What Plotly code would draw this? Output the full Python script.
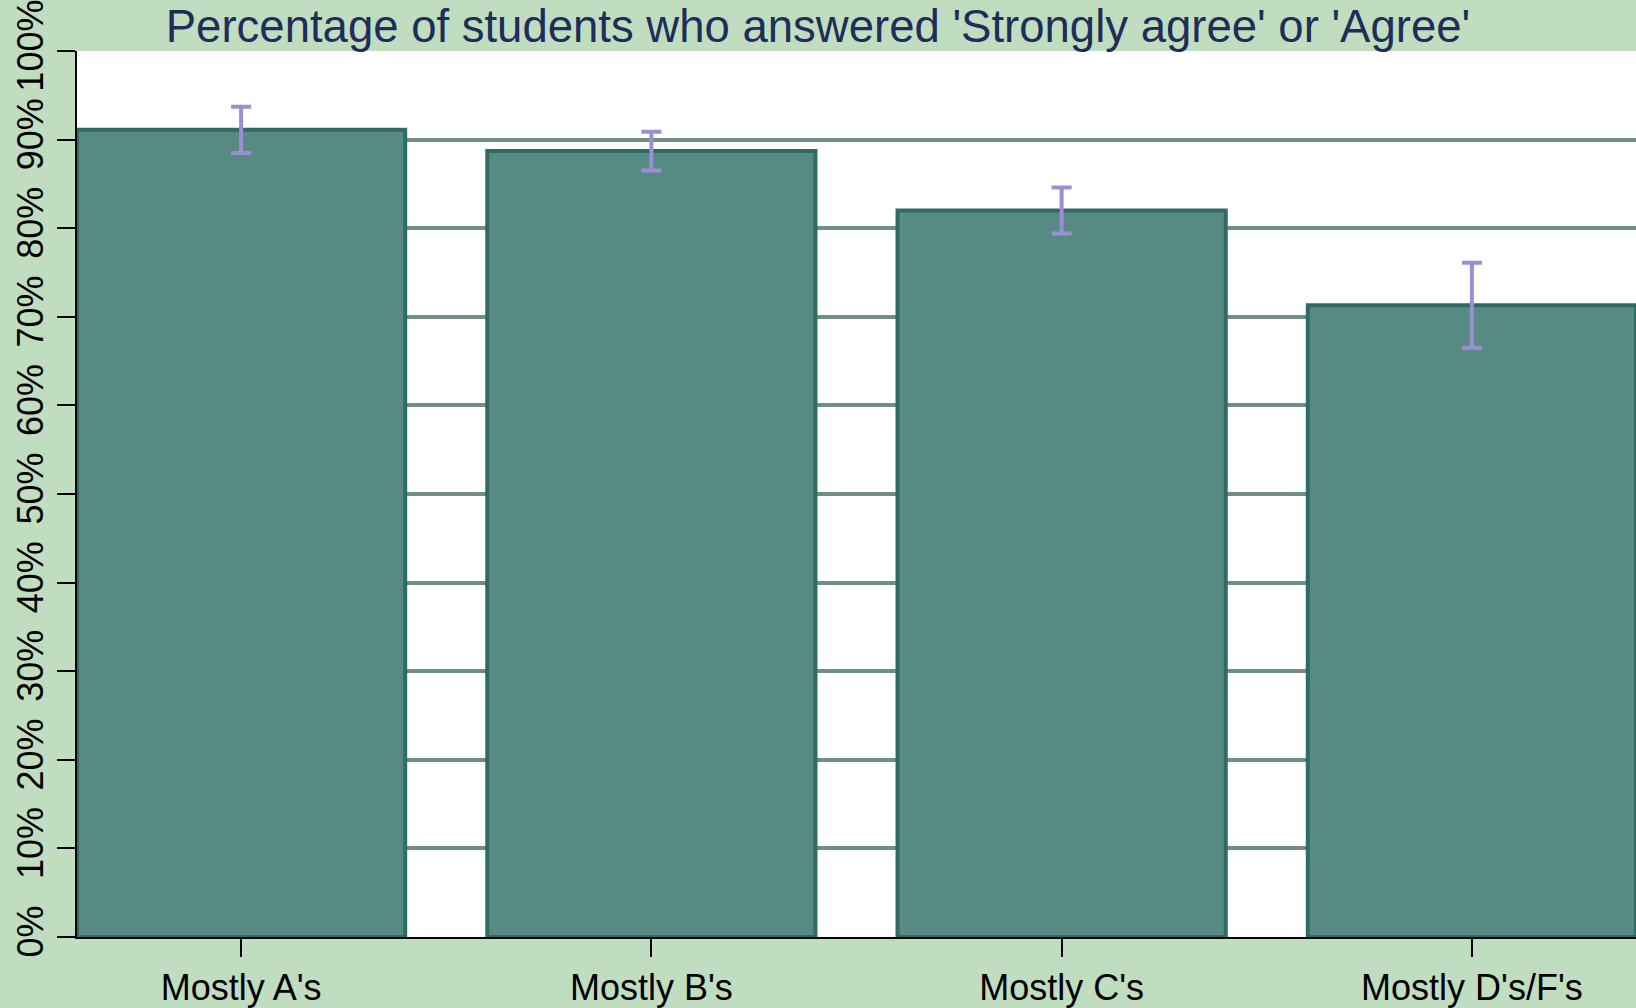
import plotly.graph_objects as go

categories = ["Mostly A's", "Mostly B's", "Mostly C's", "Mostly D's/F's"]
values = [91.1, 88.7, 82.0, 71.3]
errors = [2.6, 2.2, 2.6, 4.8]
y_ticks = list(range(0, 101, 10))
y_tick_labels = [f"{v}%" for v in y_ticks]
title_text = "Percentage of students who answered 'Strongly agree' or 'Agree'"

fig = go.Figure()
fig.add_trace(go.Bar(
    x=list(range(len(categories))),
    y=values,
    width=0.8,
    marker=dict(color="#588A84", line=dict(color="#2E6B62", width=4)),
    error_y=dict(type="data", array=errors, visible=True,
                 color="#9B8FD4", thickness=4, width=10),
    hoverinfo="skip",
))

fig.update_layout(
    width=1636, height=1008,
    paper_bgcolor="#C0DDC0",
    plot_bgcolor="#FFFFFF",
    margin=dict(l=77, r=0, t=51, b=68),
    showlegend=False,
    font=dict(family="Liberation Sans, Arial, sans-serif", color="#000000", size=36),
    title=dict(text=title_text, x=0.5, xanchor="center", y=0.99, yanchor="top",
               pad=dict(t=0), font=dict(size=45.5, color="#1F2D5A")),
)
fig.update_xaxes(
    range=[-0.4, 3.4],
    tickmode="array", tickvals=list(range(len(categories))), ticktext=categories,
    showline=True, linecolor="#000000", linewidth=2,
    ticks="outside", ticklen=18, tickwidth=2, tickcolor="#000000",
    showgrid=False, zeroline=False,
    tickfont=dict(size=36),
)
fig.update_yaxes(
    range=[0, 100],
    tickmode="array", tickvals=y_ticks, ticktext=y_tick_labels,
    tickangle=-90, ticklabeloverflow="allow",
    showline=True, linecolor="#000000", linewidth=2,
    ticks="outside", ticklen=18, tickwidth=2, tickcolor="#000000",
    showgrid=True, gridcolor="#6E8F82", gridwidth=3.5,
    zeroline=False,
    tickfont=dict(size=36),
)

fig.write_html("out.html", config={"displayModeBar": False},
               post_script="document.body.style.margin='0';")
